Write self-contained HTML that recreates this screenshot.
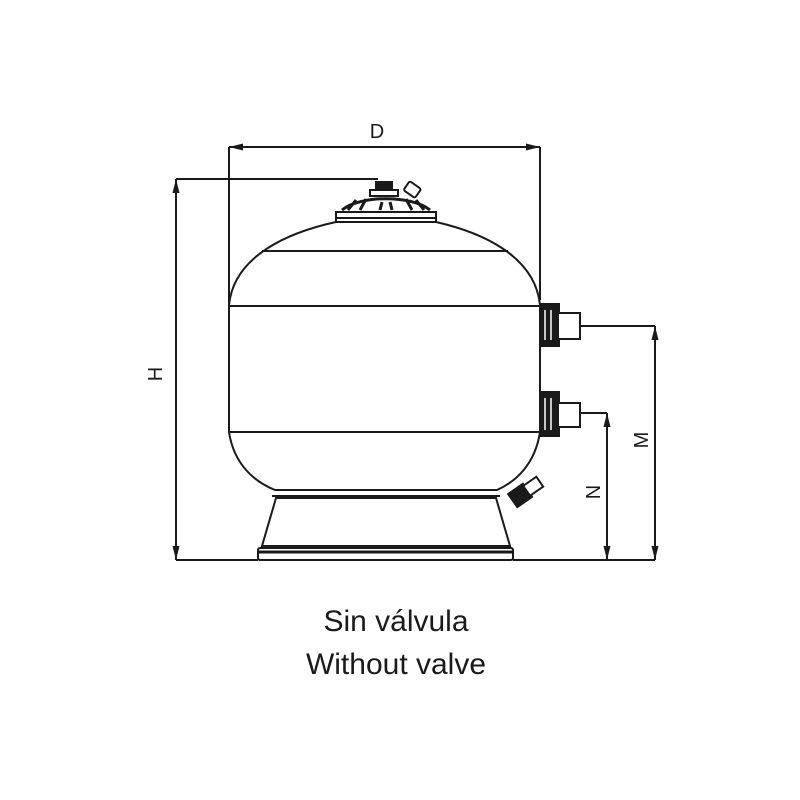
<!DOCTYPE html>
<html><head><style>body{margin:0;background:#fff}svg{display:block}</style></head><body>
<svg width="800" height="800" viewBox="0 0 800 800" xmlns="http://www.w3.org/2000/svg" font-family="Liberation Sans, sans-serif">
<g stroke="#1a1a1a" stroke-width="2" fill="none">
<!-- D dimension -->
<line x1="229" y1="147" x2="540" y2="147"/>
<line x1="229" y1="147" x2="229" y2="305"/>
<line x1="540" y1="147" x2="540" y2="300"/>
<!-- H dimension -->
<line x1="176" y1="179" x2="378" y2="179"/>
<line x1="176" y1="179" x2="176" y2="560"/>
<line x1="176" y1="560" x2="258" y2="560"/>
<line x1="513" y1="560" x2="655" y2="560"/>
<!-- M, N -->
<line x1="580" y1="326" x2="655" y2="326"/>
<line x1="655" y1="326" x2="655" y2="560"/>
<line x1="580" y1="413" x2="607" y2="413"/>
<line x1="607" y1="413" x2="607" y2="560"/>
<!-- tank -->
<path d="M336 222 L436 222 C480 232 535 255 540 305 L540 432 C535 465 515 482 497 490 L275 490 C255 482 234 465 229 432 L229 305 C234 255 290 232 336 222 Z" fill="#fff"/>
<line x1="262" y1="251" x2="508" y2="251"/>
<line x1="229" y1="306" x2="540" y2="306"/>
<line x1="229" y1="432" x2="540" y2="432"/>
<line x1="272" y1="496" x2="500" y2="496"/>
<!-- base -->
<path d="M276 498 L496 498 L510 546 L262 546 Z" fill="#fff"/>
<rect x="258" y="548" width="255" height="12" rx="2" fill="#fff"/>
<line x1="259" y1="552" x2="512" y2="552" stroke-width="3"/>
<!-- top valve -->
<rect x="336" y="212" width="100" height="10" fill="#fff"/>
<line x1="337" y1="218" x2="435" y2="218"/>
<path d="M342 210 C360 195 412 195 430 210" stroke-width="3"/>
<rect x="376" y="182" width="16" height="10" fill="#1a1a1a"/>
<rect x="370" y="190" width="28" height="6" fill="#fff"/>
<rect x="405" y="184" width="14" height="11" rx="2" transform="rotate(35 412 190)" fill="#fff"/>
<g stroke-width="3"><line x1="348" y1="210" x2="356" y2="200"/><line x1="360" y1="210" x2="366" y2="199"/><line x1="380" y1="210" x2="382" y2="202"/><line x1="392" y1="210" x2="390" y2="202"/><line x1="412" y1="210" x2="406" y2="199"/><line x1="424" y1="210" x2="416" y2="200"/></g>
<!-- ports -->
<g fill="#fff">
<rect x="541" y="304" width="18" height="42" fill="#1a1a1a"/>
<rect x="558" y="313" width="22" height="26"/>
<rect x="541" y="392" width="18" height="44" fill="#1a1a1a"/>
<rect x="558" y="403" width="22" height="24"/>
</g>
<g stroke="#fff" stroke-width="1.5"><line x1="545" y1="310" x2="545" y2="340"/><line x1="551" y1="310" x2="551" y2="340"/><line x1="545" y1="398" x2="545" y2="430"/><line x1="551" y1="398" x2="551" y2="430"/></g>
<!-- drain -->
<g transform="rotate(-35 525 492)">
<rect x="510" y="484" width="18" height="16" fill="#1a1a1a"/>
<rect x="527" y="486" width="16" height="12" fill="#fff"/>
</g>
</g>
<!-- arrowheads -->
<g fill="#1a1a1a">
<polygon points="229,147 243,143.5 243,150.5"/>
<polygon points="540,147 526,143.5 526,150.5"/>
<polygon points="176,179 172.5,193 179.5,193"/>
<polygon points="176,560 172.5,546 179.5,546"/>
<polygon points="655,326 651.5,340 658.5,340"/>
<polygon points="655,560 651.5,546 658.5,546"/>
<polygon points="607,413 603.5,427 610.5,427"/>
<polygon points="607,560 603.5,546 610.5,546"/>
</g>
<g fill="#1a1a1a" font-size="20">
<text x="377" y="138" text-anchor="middle">D</text>
<text transform="translate(162 374) rotate(-90)" text-anchor="middle">H</text>
<text transform="translate(648 440) rotate(-90)" text-anchor="middle">M</text>
<text transform="translate(600 492) rotate(-90)" text-anchor="middle">N</text>
</g>
<g fill="#1a1a1a" font-size="30" text-anchor="middle">
<text x="396" y="631">Sin válvula</text>
<text x="396" y="674">Without valve</text>
</g>
</svg>
</body></html>
